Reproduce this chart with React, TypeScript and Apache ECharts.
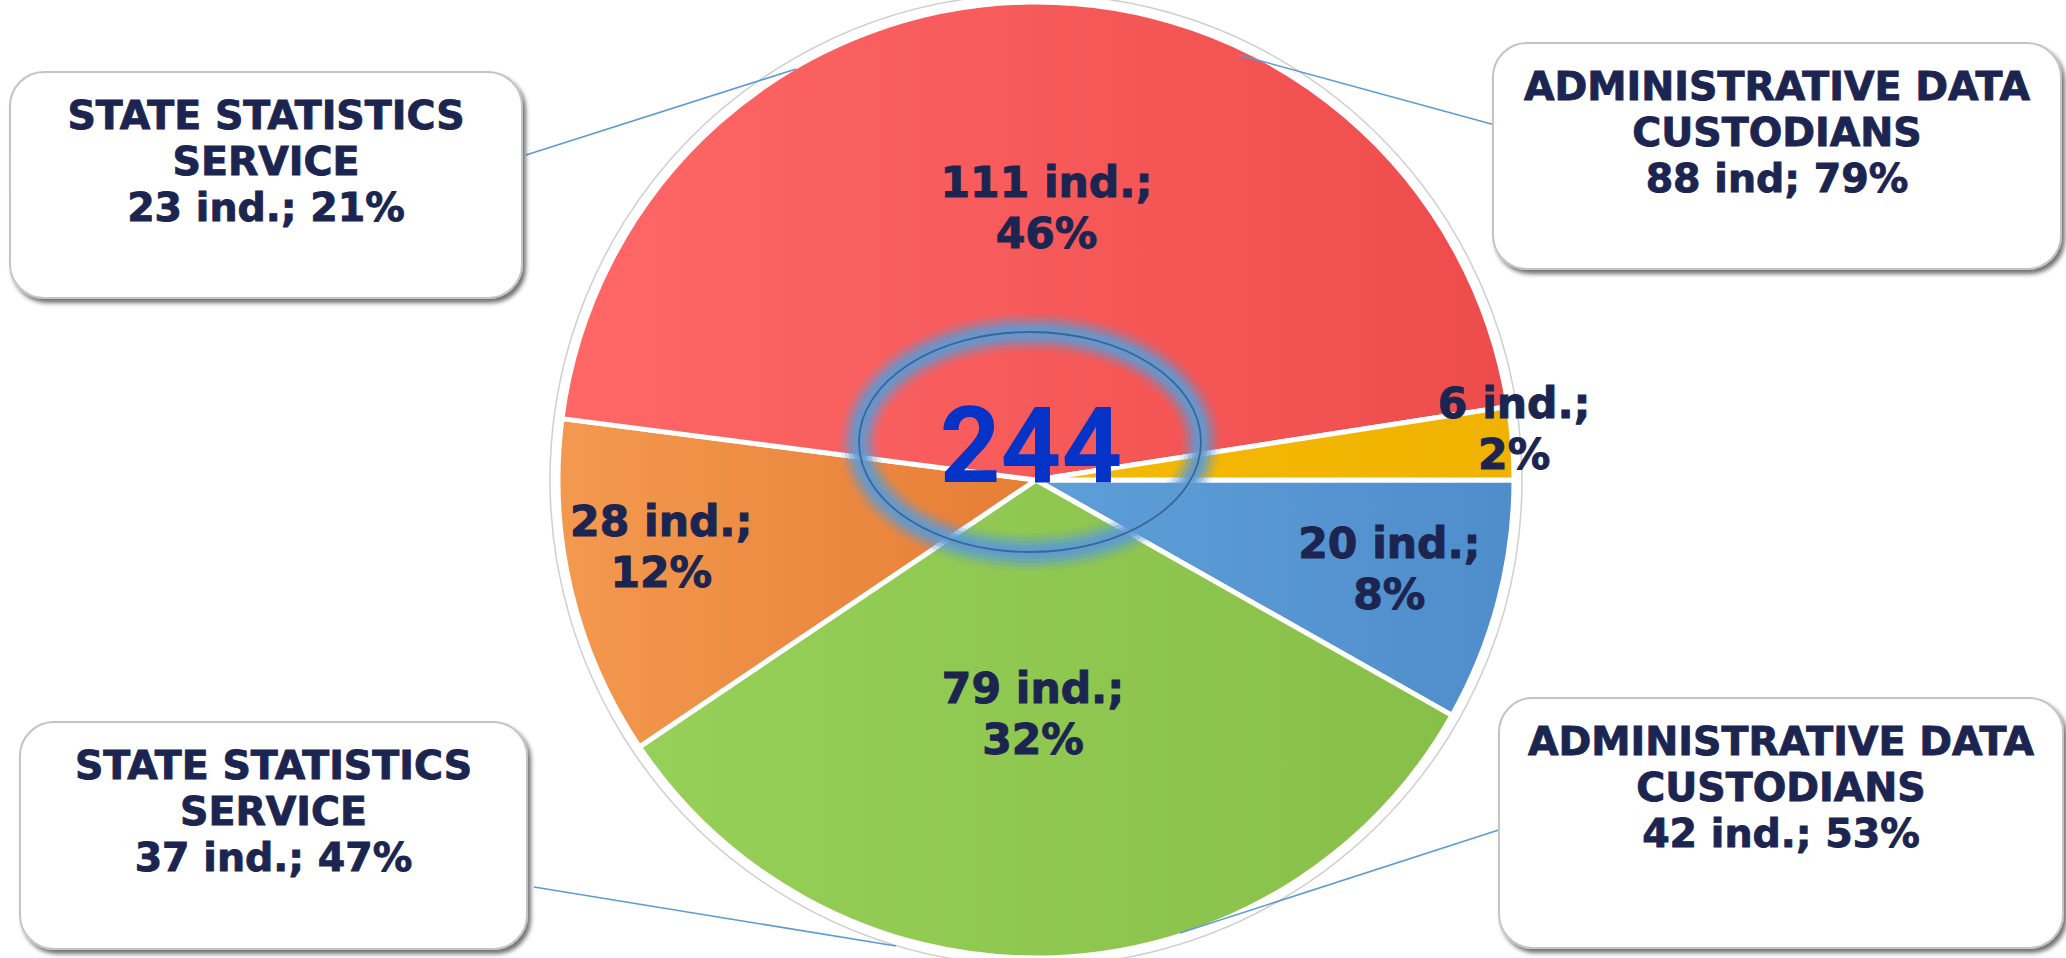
import React, { useEffect, useRef } from "react";
import * as echarts from "echarts";

// ---- data ----
const segmentNames = ["Segment blue", "Segment green", "Segment orange", "Segment red", "Segment yellow"];
const segmentValues = [20, 79, 28, 111, 6];
const colorsLeft = ["#5E9FD8", "#97D058", "#F3994F", "#FF6767", "#F4BA06"];
const colorsRight = ["#4F8DCB", "#87BF48", "#E67D35", "#EE4C4C", "#EFB200"];

const calloutTitles = [
  "STATE STATISTICS\nSERVICE",
  "ADMINISTRATIVE DATA\nCUSTODIANS",
  "STATE STATISTICS\nSERVICE",
  "ADMINISTRATIVE DATA\nCUSTODIANS",
];
const calloutCounts = [23, 88, 37, 42];
const calloutUnits = ["ind.;", "ind;", "ind.;", "ind.;"];
const calloutPercents = [21, 79, 47, 53];

// ---- layout (styles / positions) ----
const CX = 1036;
const CY = 480;
const R = 478;
const labelRadiusFactor = [0.755, 0.483, 0.787, 0.563, 0.995];
const labelNudge = [[0, -4], [-12, 0], [-4, -20], [14, 0], [-2, -14]];
const boxes = [
  { x: 10, y: 72, w: 512, h: 226 },
  { x: 1493, y: 43, w: 568, h: 226 },
  { x: 20, y: 722, w: 507, h: 227 },
  { x: 1499, y: 698, w: 564, h: 250 },
];
const leaders = [
  [526, 155, 796, 69],
  [1239, 55, 1495, 125],
  [534, 887, 896, 946],
  [1511, 826, 1180, 933],
];
const TEXT_COLOR = "#1C2550";

export default function App() {
  const ref = useRef<HTMLDivElement>(null);

  useEffect(() => {
    if (!ref.current) return;
    const chart = echarts.init(ref.current, undefined, { renderer: "svg" });
    const total = segmentValues.reduce((a, b) => a + b, 0);

    const graphic: any[] = [];
    graphic.push({
      type: "circle",
      z: 1,
      silent: true,
      shape: { cx: CX, cy: CY, r: R + 8 },
      style: { fill: "none", stroke: "#CFCFCF", lineWidth: 1.5 },
    });
    leaders.forEach((l) => {
      graphic.push({
        type: "line",
        z: 50,
        silent: true,
        shape: { x1: l[0], y1: l[1], x2: l[2], y2: l[3] },
        style: { stroke: "#5B9BD5", lineWidth: 1.6 },
      });
    });
    boxes.forEach((b, i) => {
      graphic.push({
        type: "rect",
        z: 60,
        silent: true,
        shape: { x: b.x, y: b.y, width: b.w, height: b.h, r: 34 },
        style: {
          fill: "#FFFFFF",
          stroke: "#C4C4C4",
          lineWidth: 2,
          shadowBlur: 4,
          shadowOffsetX: 3,
          shadowOffsetY: 4,
          shadowColor: "rgba(0,0,0,0.55)",
        },
      });
      graphic.push({
        type: "text",
        z: 61,
        silent: true,
        x: b.x + b.w / 2,
        y: b.y + 89,
        style: {
          text: `${calloutTitles[i]}\n${calloutCounts[i]} ${calloutUnits[i]} ${calloutPercents[i]}%`,
          align: "center",
          verticalAlign: "middle",
          fill: TEXT_COLOR,
          stroke: TEXT_COLOR,
          lineWidth: 0.9,
          fontFamily: "DejaVu Sans",
          fontWeight: "bold",
          fontSize: 39.5,
          lineHeight: 46,
        },
      });
    });
    // glowing ellipse in centre
    const EX = 1030, EY = 442, ERX = 171, ERY = 110;
    [
      { w: 38, o: 0.15 },
      { w: 30, o: 0.25 },
      { w: 22, o: 0.4 },
      { w: 14, o: 0.55 },
      { w: 8, o: 0.6 },
    ].forEach((g) => {
      graphic.push({
        type: "ellipse",
        z: 70,
        silent: true,
        shape: { cx: EX, cy: EY, rx: ERX, ry: ERY },
        style: { fill: "none", stroke: "#5B9BD5", lineWidth: g.w, opacity: g.o },
      });
    });
    graphic.push({
      type: "ellipse",
      z: 71,
      silent: true,
      shape: { cx: EX, cy: EY, rx: ERX, ry: ERY },
      style: { fill: "none", stroke: "#3E6592", lineWidth: 1.8 },
    });
    graphic.push({
      type: "text",
      z: 72,
      silent: true,
      x: 1031,
      y: 446,
      style: {
        text: String(total),
        align: "center",
        verticalAlign: "middle",
        fill: "#0533C8",
        fontFamily: "Roboto",
        fontWeight: "bold",
        fontSize: 106,
      },
    });

    chart.setOption({
      animation: false,
      backgroundColor: "#FFFFFF",
      graphic,
      series: [
        {
          type: "pie",
          center: [CX, CY],
          radius: [0, R],
          startAngle: 0,
          clockwise: true,
          percentPrecision: 0,
          avoidLabelOverlap: false,
          emphasis: { disabled: true },
          itemStyle: { borderColor: "#FFFFFF", borderWidth: 5 },
          labelLine: { show: false },
          label: {
            show: true,
            position: "inside",
            formatter: "{c} ind.;\n{d}%",
            color: TEXT_COLOR,
            textBorderColor: TEXT_COLOR,
            textBorderWidth: 1,
            fontFamily: "DejaVu Sans",
            fontWeight: "bold",
            fontSize: 42.5,
            lineHeight: 51,
            align: "center",
          },
          labelLayout: (p: any) => {
            const f = labelRadiusFactor[p.dataIndex];
            const n = labelNudge[p.dataIndex];
            const lx = p.labelRect.x + p.labelRect.width / 2;
            const ly = p.labelRect.y + p.labelRect.height / 2;
            return {
              x: CX + ((lx - CX) * f) / 0.5 + n[0],
              y: CY + ((ly - CY) * f) / 0.5 + n[1],
              align: "center",
              verticalAlign: "middle",
            };
          },
          data: segmentValues.map((v, i) => ({
            name: segmentNames[i],
            value: v,
            itemStyle: {
              color: new echarts.graphic.LinearGradient(0, 0, 1, 0, [
                { offset: 0, color: colorsLeft[i] },
                { offset: 1, color: colorsRight[i] },
              ]),
            },
          })),
        },
      ],
    });
    return () => chart.dispose();
  }, []);

  return (
    <div
      ref={ref}
      style={{ position: "fixed", left: 0, top: 0, width: 2066, height: 958 }}
    />
  );
}
